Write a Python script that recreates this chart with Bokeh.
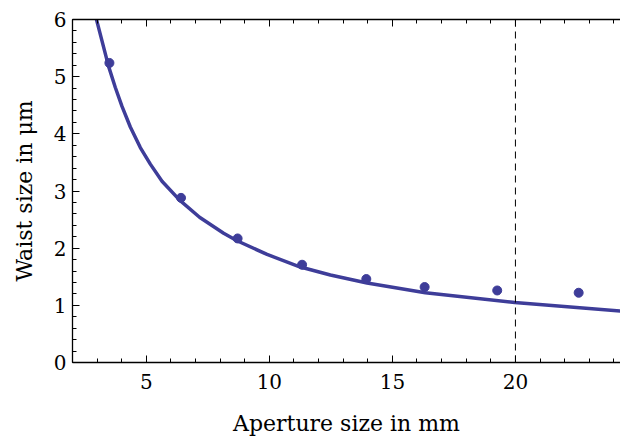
from bokeh.plotting import figure
from bokeh.models import LinearAxis, SingleIntervalTicker, Span, Range1d
from bokeh.embed import file_html
from bokeh.resources import INLINE

# measured data points
aperture_mm = [3.50, 6.41, 8.71, 11.33, 13.94, 16.31, 19.26, 22.57]
waist_um = [5.24, 2.88, 2.17, 1.71, 1.46, 1.32, 1.26, 1.22]

# fitted curve, values
curve_x = [2.967, 3.467, 3.740, 4.012, 4.350, 4.756, 5.163, 5.638, 6.354,
           7.163, 8.142, 8.687, 9.907, 11.26, 12.48, 13.97, 16.34, 19.97, 24.27]
curve_y = [6.01, 5.18, 4.81, 4.48, 4.12, 3.76, 3.47, 3.17, 2.84,
           2.54, 2.26, 2.13, 1.89, 1.67, 1.53, 1.39, 1.22, 1.05, 0.90]

marker_x = 20

BLUE = "#3e3d99"
FONT = "DejaVu Serif"

p = figure(width=620, height=438, output_backend="svg", toolbar_location=None,
           x_range=Range1d(2.0, 24.27), y_range=Range1d(0, 6),
           min_border_left=72, min_border_right=0, min_border_top=19,
           min_border_bottom=76, x_axis_location=None, y_axis_location=None)
p.outline_line_color = None
p.xgrid.visible = False
p.ygrid.visible = False
p.background_fill_color = "white"
p.border_fill_color = "white"


def style(ax):
    ax.axis_line_color = "black"
    ax.axis_line_width = 1.3
    ax.major_tick_in = 7
    ax.major_tick_out = 0
    ax.minor_tick_in = 4
    ax.minor_tick_out = 0
    ax.major_tick_line_color = "black"
    ax.minor_tick_line_color = "black"
    ax.major_label_text_font = FONT
    ax.major_label_text_color = "black"
    ax.major_label_text_font_size = "20px"
    ax.axis_label_text_font = FONT
    ax.axis_label_text_font_size = "22px"
    ax.axis_label_text_font_style = "normal"
    ax.axis_label_text_color = "black"


xb = LinearAxis(ticker=SingleIntervalTicker(interval=5, num_minor_ticks=5),
                axis_label="Aperture size in mm")
style(xb)
xb.major_label_standoff = 11
xb.axis_label_standoff = 19
p.add_layout(xb, "below")

xt = LinearAxis(ticker=SingleIntervalTicker(interval=5, num_minor_ticks=5))
style(xt)
xt.major_label_text_font_size = "1px"
xt.major_label_standoff = 0
xt.major_label_overrides = {5: "", 10: "", 15: "", 20: ""}
p.add_layout(xt, "above")

yl = LinearAxis(ticker=SingleIntervalTicker(interval=1, num_minor_ticks=5),
                axis_label="Waist size in μm")
style(yl)
yl.major_label_standoff = 6
yl.axis_label_standoff = 14
p.add_layout(yl, "left")

p.line(curve_x, curve_y, line_color=BLUE, line_width=3.5, line_cap="round",
       line_join="round")
p.scatter(aperture_mm, waist_um, size=9, fill_color=BLUE, line_color=BLUE)

p.add_layout(Span(location=marker_x, dimension="height", line_color="black",
                  line_width=1, line_dash="7 5"))

open("out.html", "w").write(file_html(p, INLINE))
